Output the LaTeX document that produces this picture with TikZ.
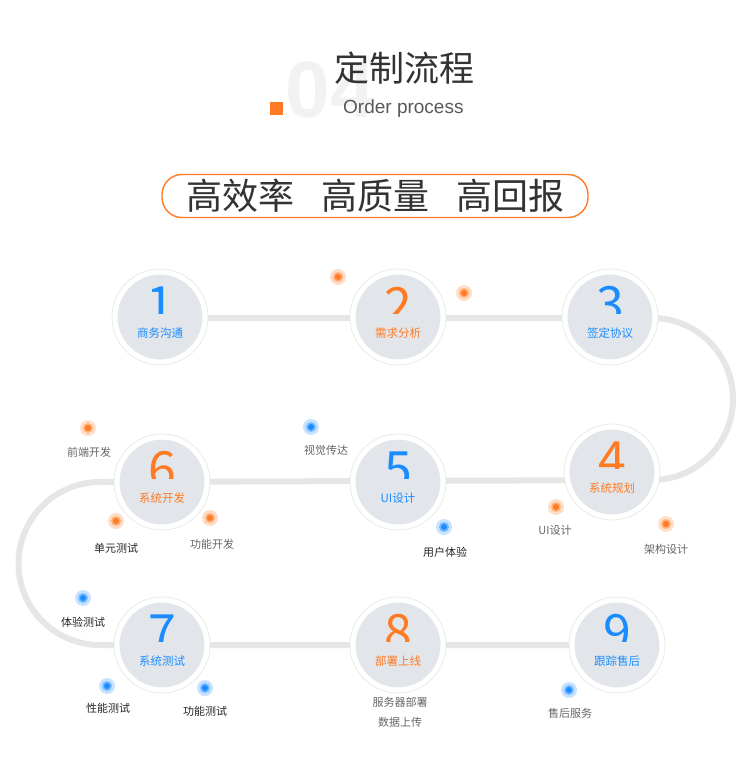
\documentclass[tikz,border=0pt]{standalone}
\usepackage{fontspec}
\setmainfont{Noto Sans CJK SC}
\newfontfamily\latin{Liberation Sans}
\definecolor{cblue}{HTML}{1A8CFF}
\definecolor{corange}{HTML}{FF7A22}
\definecolor{track}{HTML}{E6E6E6}
\definecolor{cfill}{HTML}{E2E6EA}
\begin{document}
\begin{tikzpicture}[x=1pt,y=-1pt,
  stepc/.style={circle,fill=cfill,draw=white,line width=3pt,minimum size=88pt,inner sep=0pt},
  ring/.style={circle,draw=black!10,line width=0.6pt,minimum size=96pt,fill=white},
  dig/.style={font=\fontsize{50}{50}\selectfont},
  lab/.style={font=\fontsize{11.5}{12}\selectfont},
  sub/.style={font=\fontsize{11}{12}\selectfont,text=black!60},
  subd/.style={font=\fontsize{11}{12}\selectfont,text=black!85}]
\useasboundingbox (0,0) rectangle (750,758);
\fill[white] (0,0) rectangle (750,758);
% header
\node[text=black!5,font=\latin\bfseries\fontsize{80}{80}\selectfont,anchor=west] (big) at (282,90) {04};
\fill[corange] (270,102) rectangle (283,115);
\node[text=black!80,font=\fontsize{35}{36}\selectfont,anchor=west,inner sep=0pt] (title) at (334,68) {定制流程};
\node[text=black!65,font=\latin\fontsize{19}{20}\selectfont,anchor=west,inner sep=0pt] (eng) at (343,109) {Order process};
\node[draw=corange,line width=1.4pt,rounded corners=20pt,minimum width=426pt,minimum height=43pt,
  text=black!80,font=\fontsize{36}{38}\selectfont] (ban) at (375,196) {高效率\hspace{0.75em}高质量\hspace{0.75em}高回报};
% track
\coordinate (t1) at (160,318); \coordinate (t3) at (652,318);
\coordinate (t6) at (100,482); \coordinate (t9) at (617,645);
\draw[track,line width=6pt] (t1) -- (t3) arc[start angle=-90,end angle=90,radius=81] -- (t6)
  arc[start angle=270,end angle=90,radius=81.5] -- (t9);
% steps
\foreach \n/\x/\y/\c/\t in {1/160/317/cblue/商务沟通,2/398/317/corange/需求分析,3/610/317/cblue/签定协议,
  4/612/472/corange/系统规划,5/398/482/cblue/UI设计,6/162/482/corange/系统开发,
  7/162/645/cblue/系统测试,8/398/645/corange/部署上线,9/617/645/cblue/跟踪售后}{
  \node[ring] (r\n) at (\x,\y) {};
  \node[stepc] (s\n) at (\x,\y) {};
  \begin{scope}
  \clip (\x-40,\y-45) rectangle (\x+40,\y-4);
  \node[dig,text=\c] (d\n) at (\x,\y-12) {\n};
  \end{scope}
  \node[lab,text=\c] (l\n) at (\x,\y+16) {\t};
}
% dots
\foreach \x/\y/\c in {338/277/corange,464/293/corange,88/428/corange,116/521/corange,210/518/corange,
  556/507/corange,666/524/corange,311/427/cblue,444/527/cblue,83/598/cblue,107/686/cblue,205/688/cblue,569/690/cblue}{
  \fill[\c!25] (\x,\y) circle (8);
  \fill[\c!60] (\x,\y) circle (5);
  \fill[\c] (\x,\y) circle (3);
}
\node[sub] (a1) at (89,452) {前端开发};
\node[sub] (a2) at (326,450) {视觉传达};
\node[subd] (a3) at (116,548) {单元测试};
\node[sub] (a4) at (212,544) {功能开发};
\node[sub] (a5) at (555,530) {UI设计};
\node[sub] (a6) at (666,549) {架构设计};
\node[subd] (a7) at (445,552) {用户体验};
\node[subd] (a8) at (83,622) {体验测试};
\node[subd] (a9) at (108,708) {性能测试};
\node[subd] (a10) at (205,711) {功能测试};
\node[sub] (a11) at (400,702) {服务器部署};
\node[sub] (a12) at (400,722) {数据上传};
\node[sub] (a13) at (570,713) {售后服务};
\end{tikzpicture}
\end{document}
